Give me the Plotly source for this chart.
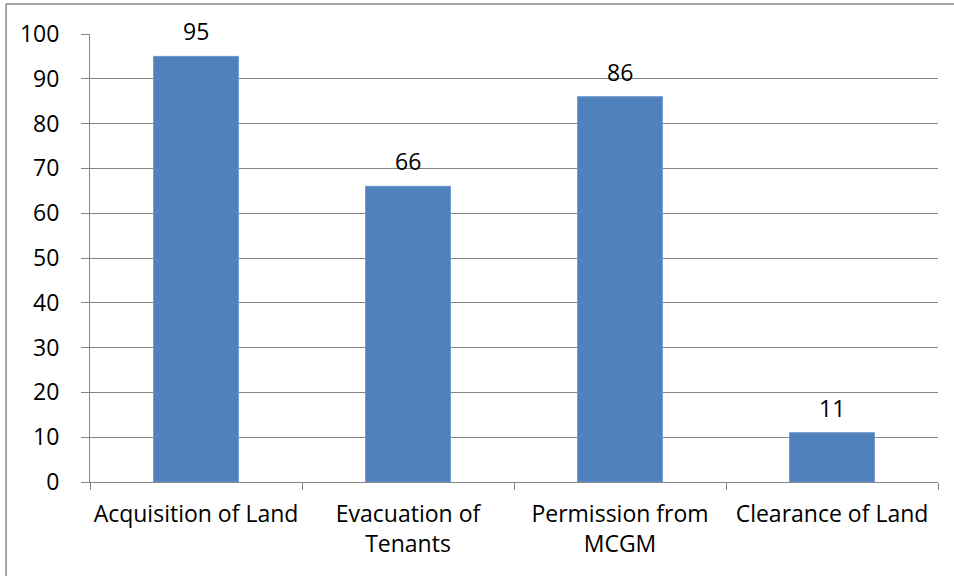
import plotly.graph_objects as go

categories = ["Acquisition of Land", "Evacuation of<br>Tenants", "Permission from<br>MCGM", "Clearance of Land"]
values = [95, 66, 86, 11]
y_ticks = [0, 10, 20, 30, 40, 50, 60, 70, 80, 90, 100]

FONT = "Open Sans"
FS = 23
fig = go.Figure()
fig.add_trace(go.Bar(x=categories, y=values, width=0.4,
                     marker=dict(color="#4F81BD", line=dict(color="#6A95CC", width=1))))

for c, v in zip(categories, values):
    fig.add_annotation(x=c, y=v, text=str(v), showarrow=False, yanchor="middle",
                       yshift=25, font=dict(family=FONT, size=FS, color="black"))

fig.update_layout(
    width=954, height=576,
    margin=dict(l=90, r=16, t=34, b=94),
    paper_bgcolor="white", plot_bgcolor="white",
    showlegend=False, bargap=0.6,
    font=dict(family=FONT, size=FS, color="black"),
    xaxis=dict(showgrid=False, showline=True, linecolor="#868686", linewidth=1,
               ticks="outside", tickson="boundaries", ticklen=7, tickcolor="#868686",
               tickangle=0, automargin=False,
               ticklabelstandoff=11, tickfont=dict(family=FONT, size=FS)),
    yaxis=dict(range=[0, 100], tickvals=y_ticks, showgrid=True, gridcolor="#868686",
               gridwidth=1, showline=True, linecolor="#868686", linewidth=1,
               ticks="outside", ticklen=8, tickcolor="#868686", zeroline=False,
               automargin=False,
               ticklabelstandoff=17, tickfont=dict(family=FONT, size=FS)),
    shapes=[
        dict(type="line", xref="paper", yref="paper", x0=-0.099, x1=1.02, y0=1.067, y1=1.067,
             line=dict(color="#868686", width=1.5)),
        dict(type="line", xref="paper", yref="paper", x0=-0.099, x1=-0.099, y0=1.067, y1=-0.22,
             line=dict(color="#868686", width=1.5)),
    ],
)

fig.write_html("out.html")
